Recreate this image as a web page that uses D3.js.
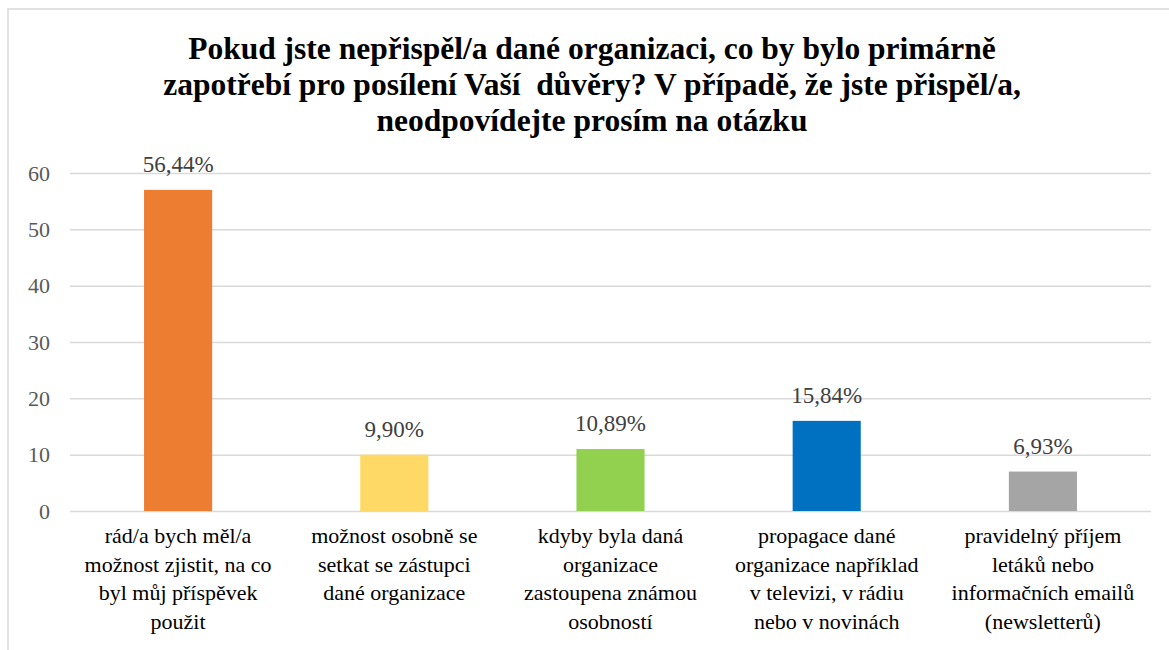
<!DOCTYPE html>
<html>
<head>
<meta charset="utf-8">
<script src="https://cdn.jsdelivr.net/npm/d3@7"></script>
<style>
  html, body { margin: 0; padding: 0; background: #fff; }
  svg { display: block; }
  svg text { font-family: "Liberation Serif", "Times New Roman", Times, "DejaVu Serif", serif; }
</style>
</head>
<body>
<svg id="chart"></svg>
<script>
// respondents per answer (out of 101) and the shares printed above the bars
const categories = [
  ["rád/a bych měl/a", "možnost zjistit, na co", "byl můj příspěvek", "použit"],
  ["možnost osobně se", "setkat se zástupci", "dané organizace"],
  ["kdyby byla daná", "organizace", "zastoupena známou", "osobností"],
  ["propagace dané", "organizace například", "v televizi, v rádiu", "nebo v novinách"],
  ["pravidelný příjem", "letáků nebo", "informačních emailů", "(newsletterů)"],
];
const counts = [57, 10, 11, 16, 7];
const shares = ["56,44%", "9,90%", "10,89%", "15,84%", "6,93%"];
const colors = ["#ED7D31", "#FFD966", "#92D050", "#0070C0", "#A5A5A5"];
const yTicks = [0, 10, 20, 30, 40, 50, 60];
const titleLines = [
  "Pokud jste nepřispěl/a dané organizaci, co by bylo primárně",
  "zapotřebí pro posílení Vaší  důvěry? V případě, že jste přispěl/a,",
  "neodpovídejte prosím na otázku",
];

const width = 1169;
const height = 650;
const margin = { top: 173, right: 18, bottom: 139, left: 70 };
const serif = "'Liberation Serif', 'Times New Roman', Times, 'DejaVu Serif', serif";

const svg = d3.select("svg#chart").attr("width", width).attr("height", height);

// chart frame (only top and left edges fall inside the picture)
svg
  .append("rect")
  .attr("x", 8)
  .attr("y", 9)
  .attr("width", width + 20)
  .attr("height", height + 20)
  .attr("fill", "none")
  .attr("stroke", "#d9d9d9")
  .attr("stroke-width", 1.5);

const x = d3
  .scaleBand()
  .domain(d3.range(counts.length))
  .range([margin.left, width - margin.right])
  .paddingInner(0.685)
  .paddingOuter(0.3425);

const y = d3
  .scaleLinear()
  .domain([0, 60])
  .range([height - margin.bottom, margin.top]);

// gridlines + y labels
const yAxis = svg
  .append("g")
  .attr("transform", `translate(${margin.left},0)`)
  .call(
    d3
      .axisLeft(y)
      .tickValues(yTicks)
      .tickSize(-(width - margin.right - margin.left))
      .tickPadding(20)
  )
  .attr("font-family", serif)
  .attr("font-size", 22);
yAxis.select(".domain").remove();
yAxis
  .selectAll(".tick line")
  .attr("stroke", "#d9d9d9")
  .attr("stroke-width", 1.5);
yAxis.selectAll(".tick text").attr("fill", "#595959");

// bars
svg
  .append("g")
  .selectAll("rect")
  .data(counts)
  .join("rect")
  .attr("x", (d, i) => x(i))
  .attr("y", (d) => y(d))
  .attr("width", x.bandwidth())
  .attr("height", (d) => y(0) - y(d))
  .attr("fill", (d, i) => colors[i]);

// value labels
svg
  .append("g")
  .attr("font-family", serif)
  .attr("font-size", 23)
  .selectAll("text")
  .data(counts)
  .join("text")
  .attr("x", (d, i) => x(i) + x.bandwidth() / 2)
  .attr("y", (d) => y(d) - 18)
  .attr("text-anchor", "middle")
  .attr("fill", "#404040")
  .text((d, i) => shares[i]);

// category labels
const catGroup = svg
  .append("g")
  .attr("font-family", serif)
  .attr("font-size", 22)
  .selectAll("text")
  .data(categories)
  .join("text")
  .attr("text-anchor", "middle")
  .attr("fill", "#000");
catGroup
  .selectAll("tspan")
  .data((d, i) => d.map((line) => ({ line, i })))
  .join("tspan")
  .attr("x", ({ i }) => x(i) + x.bandwidth() / 2)
  .attr("y", (d, j) => y(0) + 32 + j * 28.5)
  .text(({ line }) => line);

// title
svg
  .append("text")
  .attr("font-family", serif)
  .attr("font-size", 31.5)
  .attr("text-anchor", "middle")
  .attr("font-weight", "bold")
  .attr("fill", "#000")
  .style("white-space", "pre")
  .selectAll("tspan")
  .data(titleLines)
  .join("tspan")
  .attr("x", 592)
  .attr("y", (d, i) => 59 + i * 36)
  .text((d) => d);
</script>
</body>
</html>
